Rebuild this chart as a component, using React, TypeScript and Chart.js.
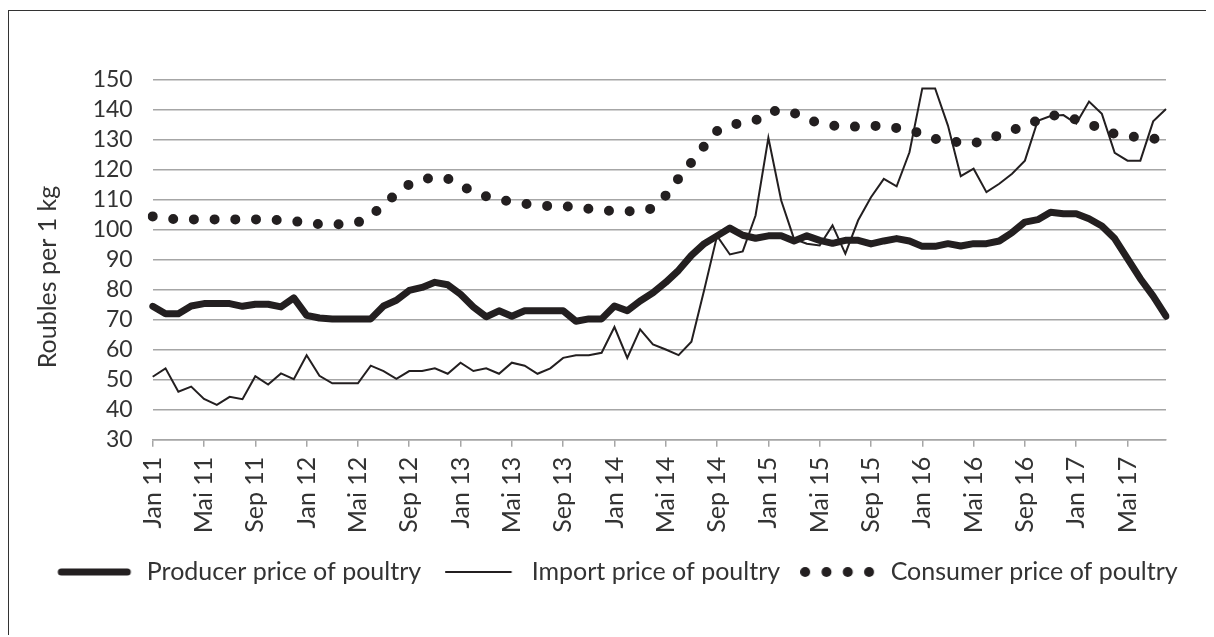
import React, { useEffect, useRef } from 'react';
import { Chart, registerables } from 'chart.js';

Chart.register(...registerables);

// ---- data ----
const MONTHS = ['Jan', 'Feb', 'Mrz', 'Apr', 'Mai', 'Jun', 'Jul', 'Aug', 'Sep', 'Okt', 'Nov', 'Dez'];
const YEARS = ['11', '12', '13', '14', '15', '16', '17'];
const MONTHS_IN_LAST_YEAR = 8; // Jan 17 .. Aug 17

const CATEGORIES: string[] = [];
YEARS.forEach((y, yi) => {
  MONTHS.forEach((m, mi) => {
    if (yi < YEARS.length - 1 || mi < MONTHS_IN_LAST_YEAR) CATEGORIES.push(`${m} ${y}`);
  });
});

const SERIES_NAMES = ['Producer price of poultry', 'Import price of poultry', 'Consumer price of poultry'];
const Y_TITLE = 'Roubles per 1 kg';
const Y_MIN = 30;
const Y_MAX = 150;
const Y_STEP = 10;

const PRODUCER = [
  74.5, 72, 72, 74.6, 75.4, 75.4, 75.4, 74.5, 75.2, 75.2,
  74.3, 77.3, 71.5, 70.6, 70.3, 70.3, 70.3, 70.3, 74.6, 76.5,
  79.8, 80.8, 82.5, 81.7, 78.5, 74.3, 71, 73, 71.2, 73,
  73, 73, 73, 69.5, 70.3, 70.3, 74.6, 73, 76.3, 79,
  82.5, 86.5, 91.5, 95.4, 98, 100.6, 98.2, 97.2, 98, 98,
  96.3, 98, 96.5, 95.5, 96.5, 96.5, 95.3, 96.3, 97.1, 96.3,
  94.5, 94.5, 95.4, 94.6, 95.4, 95.4, 96.3, 99.1, 102.6, 103.4,
  105.9, 105.4, 105.4, 103.7, 101.3, 97.1, 90.4, 83.7, 77.9, 71.2,
];

const IMPORT = [
  51, 53.8, 46, 47.7, 43.6, 41.6, 44.3, 43.5, 51.2, 48.4,
  52.1, 50.2, 58.2, 51.3, 48.8, 48.8, 48.8, 54.7, 52.9, 50.3,
  52.9, 52.9, 53.8, 52, 55.7, 52.9, 53.8, 52, 55.7, 54.7,
  52, 53.8, 57.3, 58.2, 58.2, 59, 67.6, 57.3, 66.8, 61.8,
  60.1, 58.2, 62.7, 80, 98, 91.8, 92.8, 104.8, 130.7, 109.8,
  97, 95.4, 94.8, 101.5, 92.1, 103.2, 110.9, 117, 114.5, 125.9,
  147.2, 147.2, 134.8, 117.9, 120.4, 112.6, 115.4, 118.7, 123.1, 136.4,
  138, 138.3, 135.5, 142.8, 138.7, 125.7, 123.1, 123.1, 136.2, 140.3,
];

const CONSUMER = [
  104.5, 103.8, 103.5, 103.5, 103.5, 103.5, 103.5, 103.5, 103.5, 103.4,
  103.2, 102.9, 102.4, 101.9, 101.8, 101.9, 102.5, 104.5, 108.5, 112,
  115.2, 116.8, 117.6, 117.1, 114.8, 112.8, 111.2, 110, 109.5, 108.7,
  108.3, 107.9, 107.9, 107.6, 107, 106.5, 106.3, 106.2, 106.3, 107.2,
  111.5, 117.2, 122.5, 128, 133, 135, 135.7, 136.5, 139.3, 140,
  139, 137, 135.5, 134.8, 134.3, 134.5, 134.8, 134.5, 134, 133.3,
  132, 130.4, 129.5, 129.2, 128.7, 130.5, 131.5, 133.2, 134.8, 136.5,
  138.3, 137.8, 136.8, 135.5, 133.5, 132, 131.2, 130.9, 130.4, 130.2,
];

// ---- styles ----
const LINE = '#231f20';
const GRID = '#a6a6a6';
const TEXT = '#333333';
const FONT = 'Lato';

const yTitlePlugin = {
  id: 'yTitleDraw',
  afterDraw(chart: any) {
    const ctx = chart.ctx as CanvasRenderingContext2D;
    ctx.save();
    ctx.font = `25px ${FONT}`;
    ctx.fillStyle = TEXT;
    ctx.textAlign = 'center';
    ctx.textBaseline = 'alphabetic';
    ctx.translate(47, 266);
    ctx.rotate(-Math.PI / 2);
    ctx.fillText(Y_TITLE, 0, 0);
    ctx.restore();
  },
};

function makeSymbol(draw: (g: CanvasRenderingContext2D) => void) {
  const c = document.createElement('canvas');
  c.width = 78;
  c.height = 12;
  const g = c.getContext('2d')!;
  draw(g);
  return c;
}

export default function App() {
  const ref = useRef<HTMLCanvasElement>(null);

  useEffect(() => {
    document.documentElement.style.overflow = 'hidden';
  }, []);

  useEffect(() => {
    if (!ref.current) return;

    const symbols = [
      makeSymbol((g) => {
        g.strokeStyle = LINE;
        g.lineWidth = 7;
        g.lineCap = 'round';
        g.beginPath();
        g.moveTo(5, 6);
        g.lineTo(71, 6);
        g.stroke();
      }),
      makeSymbol((g) => {
        g.strokeStyle = LINE;
        g.lineWidth = 2;
        g.beginPath();
        g.moveTo(4, 6);
        g.lineTo(70.5, 6);
        g.stroke();
      }),
      makeSymbol((g) => {
        g.fillStyle = LINE;
        [5, 26.3, 47.6, 68.9].forEach((cx) => {
          g.beginPath();
          g.arc(cx, 6, 5, 0, Math.PI * 2);
          g.fill();
        });
      }),
    ];

    const chart = new Chart(ref.current, {
      type: 'line',
      data: {
        labels: CATEGORIES,
        datasets: [
          {
            label: SERIES_NAMES[0],
            data: PRODUCER,
            borderColor: LINE,
            backgroundColor: LINE,
            borderWidth: 7,
            borderJoinStyle: 'round',
            borderCapStyle: 'round',
            pointRadius: 0,
            tension: 0,
            fill: false,
          },
          {
            label: SERIES_NAMES[1],
            data: IMPORT,
            borderColor: LINE,
            backgroundColor: LINE,
            borderWidth: 2,
            borderJoinStyle: 'miter',
            pointRadius: 0,
            tension: 0,
            fill: false,
          },
          {
            label: SERIES_NAMES[2],
            data: CONSUMER,
            borderColor: LINE,
            backgroundColor: LINE,
            borderWidth: 10,
            borderDash: [0, 20.7],
            borderCapStyle: 'round',
            borderJoinStyle: 'round',
            pointRadius: 0,
            tension: 0,
            fill: false,
          },
        ],
      },
      options: {
        animation: false,
        responsive: false,
        devicePixelRatio: 1,
        events: [],
        layout: { padding: { left: 18, right: 0, top: 69, bottom: 34.5 } },
        scales: {
          x: {
            type: 'category',
            offset: false,
            grid: {
              display: true,
              drawOnChartArea: false,
              drawTicks: true,
              tickLength: 7,
              lineWidth: 1.5,
              color: (c: any) => (c.index % 4 === 0 ? GRID : 'rgba(0,0,0,0)'),
            },
            border: { display: true, color: GRID, width: 1.5 },
            ticks: {
              autoSkip: false,
              maxRotation: 90,
              minRotation: 90,
              padding: 10,
              color: TEXT,
              font: { family: FONT, size: 25 },
              callback: (_v: any, i: number) => (i % 4 === 0 ? CATEGORIES[i] : ''),
            },
            afterFit: (s: any) => {
              s.height = 99.8;
            },
          },
          y: {
            min: Y_MIN,
            max: Y_MAX,
            ticks: {
              stepSize: Y_STEP,
              autoSkip: false,
              padding: 20,
              color: TEXT,
              font: { family: FONT, size: 23 },
            },
            grid: { color: GRID, lineWidth: 1.5, drawTicks: false },
            border: { display: false },
            afterFit: (s: any) => {
              s.width = 125.7;
            },
          },
          y2: {
            position: 'right',
            grid: { display: false },
            border: { display: false },
            ticks: { display: false },
            afterFit: (s: any) => {
              s.width = 41;
            },
          },
        },
        plugins: {
          tooltip: { enabled: false },
          legend: {
            position: 'bottom',
            align: 'center',
            labels: {
              usePointStyle: true,
              pointStyleWidth: 78,
              boxHeight: 12,
              padding: 20,
              color: TEXT,
              font: { family: FONT, size: 25 },
              generateLabels: (ch: any) =>
                ch.data.datasets.map((ds: any, i: number) => ({
                  text: ds.label,
                  fillStyle: 'rgba(0,0,0,0)',
                  strokeStyle: 'rgba(0,0,0,0)',
                  lineWidth: 0,
                  pointStyle: symbols[i],
                  hidden: false,
                  datasetIndex: i,
                  fontColor: TEXT,
                })),
            },
          },
        },
      } as any,
      plugins: [yTitlePlugin],
    });

    return () => chart.destroy();
  }, []);

  return (
    <div
      style={{
        position: 'relative',
        top: 2,
        width: 1206,
        height: 627,
        boxSizing: 'border-box',
        borderTop: '1px solid #333333',
        borderLeft: '1px solid #333333',
        background: '#ffffff',
      }}
    >
      <canvas ref={ref} width={1198} height={618} style={{ display: 'block' }} />
    </div>
  );
}
